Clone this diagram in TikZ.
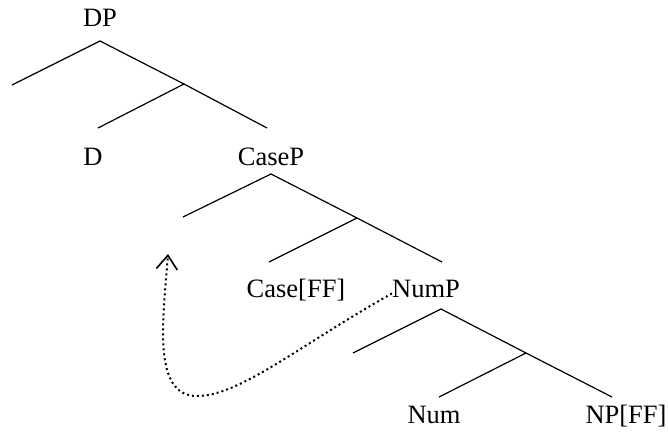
\documentclass[tikz,border=0pt]{standalone}
\usepackage{fontspec}
\setmainfont{Liberation Serif}
\usetikzlibrary{arrows.meta}
\begin{document}
\begin{tikzpicture}[x=1pt,y=-1pt,
  lbl/.style={font=\fontsize{26.5}{30}\selectfont, inner sep=0pt, anchor=base},
  branch/.style={line width=1.2pt},
  move/.style={line width=2pt, dash pattern=on 2pt off 3pt,
    -{Straight Barb[length=14pt,width=21pt,line width=1.6pt]}}]
\useasboundingbox (0,0) rectangle (668,439);
% labels
\node[lbl] (DP) at (100,26) {DP};
\node[lbl] (D) at (93,165) {D};
\node[lbl] (CaseP) at (271,165) {CaseP};
\node[lbl] (CaseFF) at (296,297) {Case[FF]};
\node[lbl] (NumP) at (426,297) {NumP};
\node[lbl] (Num) at (434,423) {Num};
\node[lbl] (NPFF) at (626,423) {NP[FF]};
% tree 1
\coordinate (a1) at (100,41);
\coordinate (l1) at (12,85);
\coordinate (m1) at (184,84);
\coordinate (r1) at (267,128);
\coordinate (d1) at (98,128);
\draw[branch] (l1) -- (a1) -- (m1) -- (r1);
\draw[branch] (m1) -- (d1);
% tree 2
\coordinate (a2) at (271,174);
\coordinate (l2) at (183,217);
\coordinate (m2) at (357,218);
\coordinate (r2) at (442,262);
\coordinate (d2) at (269,262);
\draw[branch] (l2) -- (a2) -- (m2) -- (r2);
\draw[branch] (m2) -- (d2);
% tree 3
\coordinate (a3) at (441,309);
\coordinate (l3) at (353,353);
\coordinate (m3) at (526,353);
\coordinate (r3) at (612,397);
\coordinate (d3) at (439,397);
\draw[branch] (l3) -- (a3) -- (m3) -- (r3);
\draw[branch] (m3) -- (d3);
% movement arrow
\coordinate (trace) at (168,254);
\coordinate (low) at (197,396);
\draw[move] ([yshift=-5pt]NumP.west) .. controls (300,345) and (240,396) .. (low)
  .. controls (152,396) and (163,320) .. (trace);
\end{tikzpicture}
\end{document}
